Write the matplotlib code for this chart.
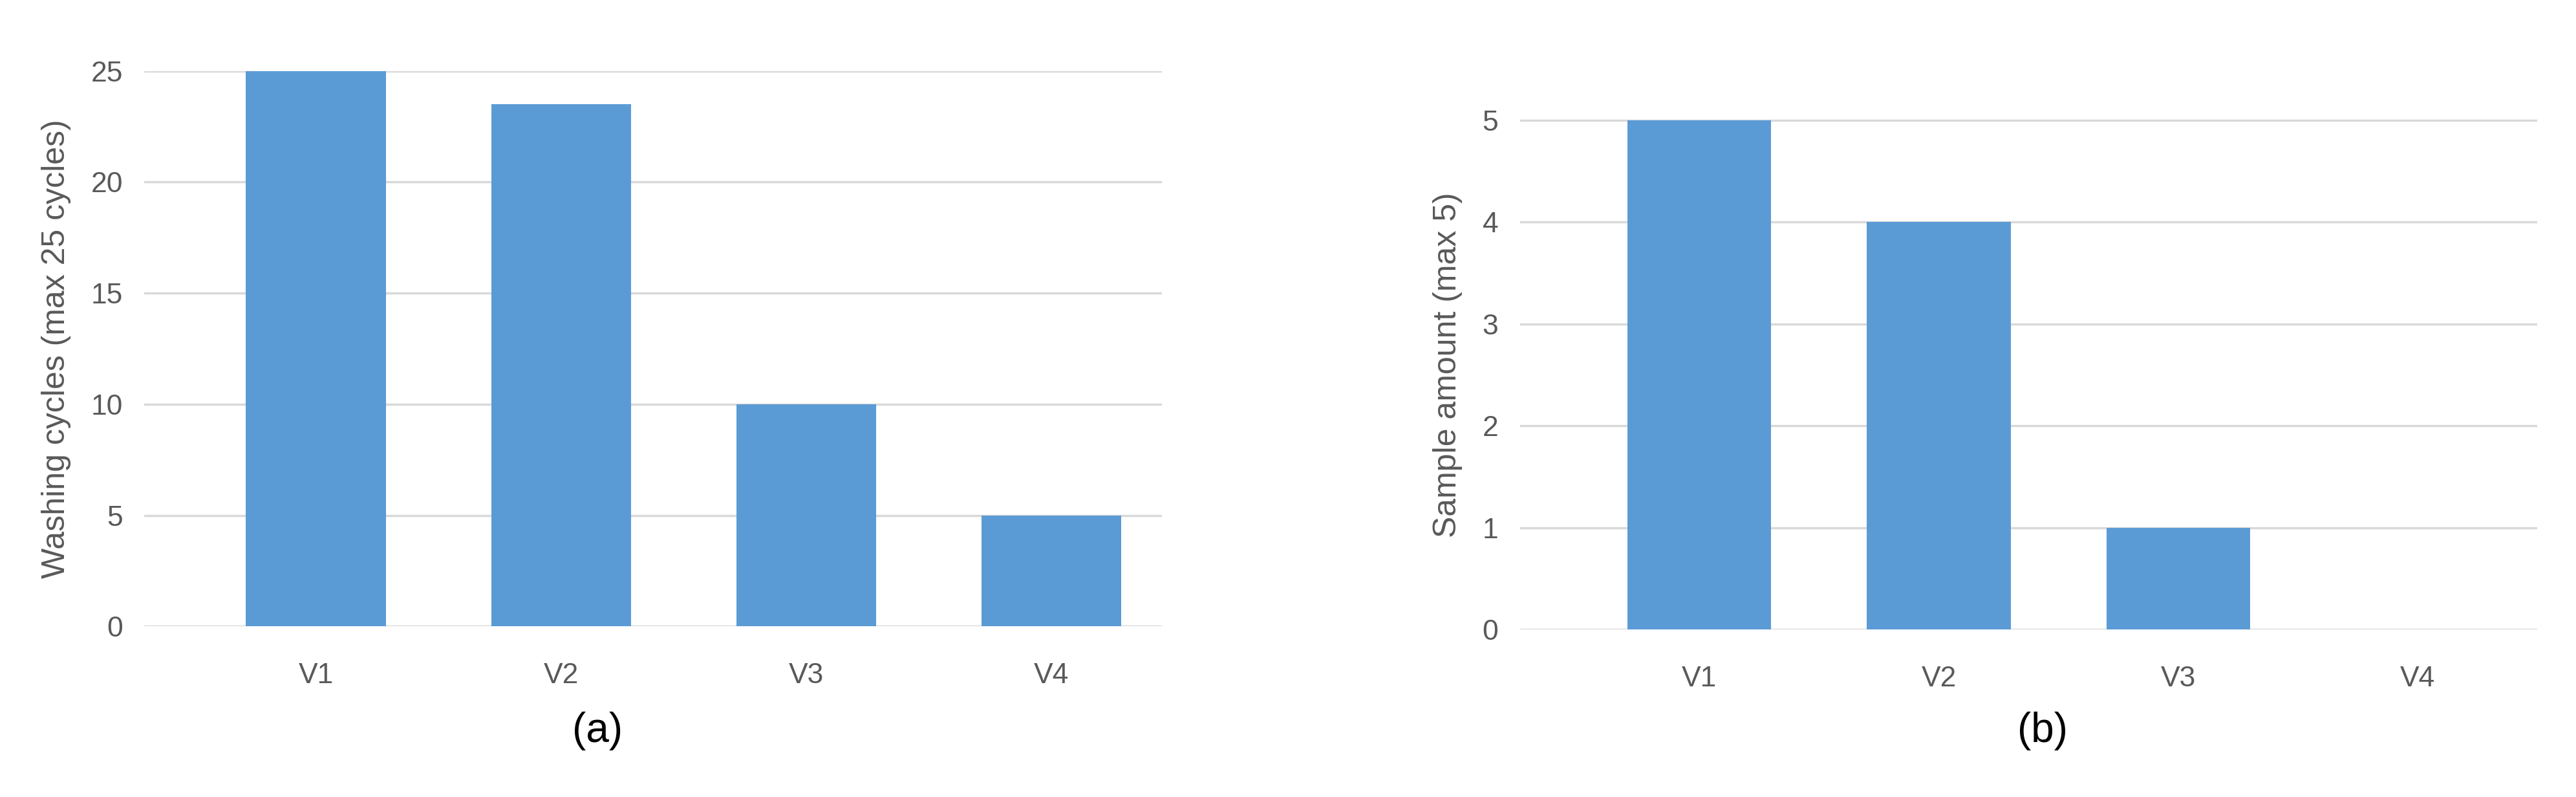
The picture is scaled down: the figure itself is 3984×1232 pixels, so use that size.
import matplotlib
matplotlib.use("Agg")
import matplotlib.pyplot as plt

plt.rcParams['font.family'] = ['Liberation Sans', 'DejaVu Sans']

cats = ["V1", "V2", "V3", "V4"]
washing = [25, 23.5, 10, 5]
samples = [5, 4, 1, 0]

bar_color = "#5B9BD5"
txt = "#595959"

fig = plt.figure(figsize=(39.84, 12.32), dpi=100)
ax1 = fig.add_axes([0.056, 0.214, 0.395, 0.697])
ax2 = fig.add_axes([0.59, 0.21, 0.395, 0.665])

def style(ax):
    ax.set_axisbelow(True)
    ax.yaxis.grid(True, color="#D9D9D9", linewidth=2.5)
    for s in ax.spines.values():
        s.set_visible(False)
    ax.tick_params(axis="y", length=0, labelsize=32, colors=txt, pad=24)
    ax.tick_params(axis="x", length=0, labelsize=32, colors=txt, pad=40)

ax1.bar(cats, washing, width=0.57, color=bar_color)
ax1.set_ylim(0, 25)
ax1.set_xlim(-0.7, 3.45)
ax1.set_yticks([0, 5, 10, 15, 20, 25])
ax1.set_ylabel("Washing cycles (max 25 cycles)", fontsize=36, color=txt, labelpad=22)
style(ax1)

ax2.bar(cats, samples, width=0.6, color=bar_color)
ax2.set_ylim(0, 5.2)
ax2.set_xlim(-0.75, 3.5)
ax2.set_yticks([0, 1, 2, 3, 4, 5])
ax2.set_ylabel("Sample amount (max 5)", fontsize=36, color=txt, labelpad=22)
style(ax2)

fig.text(0.232, 0.083, "(a)", fontsize=46, ha="center", va="center")
fig.text(0.793, 0.083, "(b)", fontsize=46, ha="center", va="center")

fig.savefig("out.png", dpi=100, facecolor="white")
